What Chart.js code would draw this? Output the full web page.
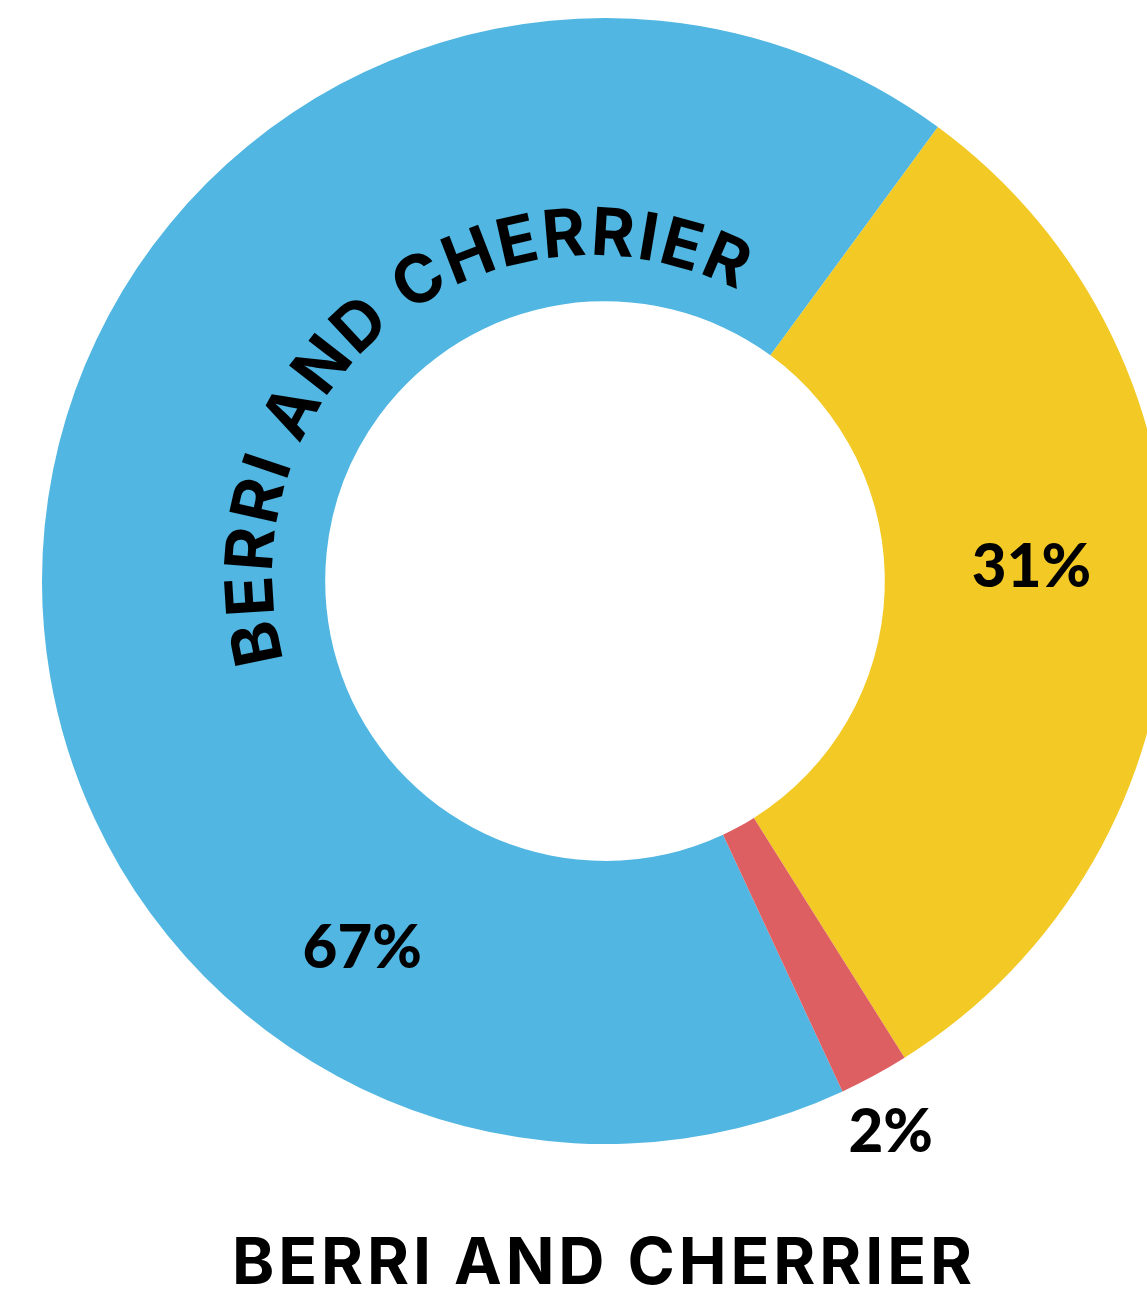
<!DOCTYPE html>
<html><head><meta charset="utf-8">
<script src="https://cdn.jsdelivr.net/npm/chart.js@4/dist/chart.umd.min.js"></script>
<style>
html,body{margin:0;padding:0;background:#fff;overflow:hidden;width:1147px;height:1300px;}
#wrap{position:absolute;left:0;top:0;width:1210px;height:1300px;}
</style></head><body>
<div id="wrap"><canvas id="c" width="1210" height="1300"></canvas></div>
<script>
// ---- data ----
const categories = ['Berri and Cherrier', 'Category B', 'Category C'];
const values = [67, 31, 2];
const valueLabels = ['67%', '31%', '2%'];
const chartTitle = 'BERRI AND CHERRIER';
const colors = ['#51B6E1', '#F2C925', '#DD5F62'];

// label placement (fraction along arc, radius as fraction of outer radius)
const labelPlacement = [
  {frac: 0.243, r: 0.778},
  {frac: 0.462, r: 0.758},
  {frac: 0.65,  r: 1.10}
];
const FONT = '"Inter", "Lato", sans-serif';
const NUM_FONT = '"Lato", "Inter", sans-serif';

function drawSpaced(ctx, text, cxText, y, spacing) {
  const chars = [...text];
  const widths = chars.map(ch => ctx.measureText(ch).width);
  const total = widths.reduce((a, b) => a + b, 0) + spacing * (chars.length - 1);
  let x = cxText - total / 2;
  ctx.textAlign = 'left';
  chars.forEach((ch, i) => { ctx.fillText(ch, x, y); x += widths[i] + spacing; });
}

const labelPlugin = {
  id: 'customLabels',
  afterDatasetsDraw(chart) {
    const ctx = chart.ctx;
    const arcs = chart.getDatasetMeta(0).data;
    const cx = arcs[0].x, cy = arcs[0].y;
    const inner = arcs[0].innerRadius, outer = arcs[0].outerRadius;
    ctx.save();
    ctx.fillStyle = '#000';
    ctx.font = '900 60px ' + NUM_FONT;
    ctx.textBaseline = 'alphabetic';
    labelPlacement.forEach((p, i) => {
      const a = arcs[i];
      const ang = a.startAngle + (a.endAngle - a.startAngle) * p.frac;
      const r = outer * p.r;
      const m = ctx.measureText(valueLabels[i]);
      const capH = m.actualBoundingBoxAscent;
      ctx.textAlign = 'center';
      ctx.fillText(valueLabels[i], cx + r * Math.cos(ang), cy + r * Math.sin(ang) + capH / 2);
    });

    // curved category text on the first (blue) arc
    const txt = categories[0].toUpperCase();
    ctx.font = '700 66px ' + FONT;
    const chars = [...txt];
    const widths = chars.map(ch => ctx.measureText(ch).width);
    const tcx = cx - 13, tcy = cy - 6;
    const rBase = inner + (outer - inner) * 0.141;
    const targetLen = 740;
    const natural = widths.reduce((s, w) => s + w, 0);
    const spacing = (targetLen - natural) / (chars.length - 1);
    const centerAng = 230.8 * Math.PI / 180;
    let ang = centerAng - targetLen / 2 / rBase;
    ctx.textAlign = 'center';
    chars.forEach((ch, i) => {
      const w = widths[i];
      const a = ang + w / 2 / rBase;
      ctx.save();
      ctx.translate(tcx + rBase * Math.cos(a), tcy + rBase * Math.sin(a));
      ctx.rotate(a + Math.PI / 2);
      ctx.fillText(ch, 0, 0);
      ctx.restore();
      ang += (w + spacing) / rBase;
    });

    // bottom title
    ctx.font = '700 64px ' + FONT;
    const tw = [...chartTitle].map(ch => ctx.measureText(ch).width).reduce((s, w) => s + w, 0);
    const tsp = (740 - tw) / (chartTitle.length - 1);
    drawSpaced(ctx, chartTitle, cx - 3, 1284, tsp);
    ctx.restore();
  }
};

new Chart(document.getElementById('c'), {
  type: 'doughnut',
  data: {
    labels: categories,
    datasets: [{ data: values, backgroundColor: colors, borderWidth: 0, hoverOffset: 0 }]
  },
  options: {
    responsive: false,
    animation: false,
    rotation: 155.05,
    cutout: '49.7%',
    layout: { padding: { left: 42, top: 18, right: 42, bottom: 156 } },
    plugins: { legend: { display: false }, tooltip: { enabled: false }, title: { display: false } }
  },
  plugins: [labelPlugin]
});
</script>
</body></html>
